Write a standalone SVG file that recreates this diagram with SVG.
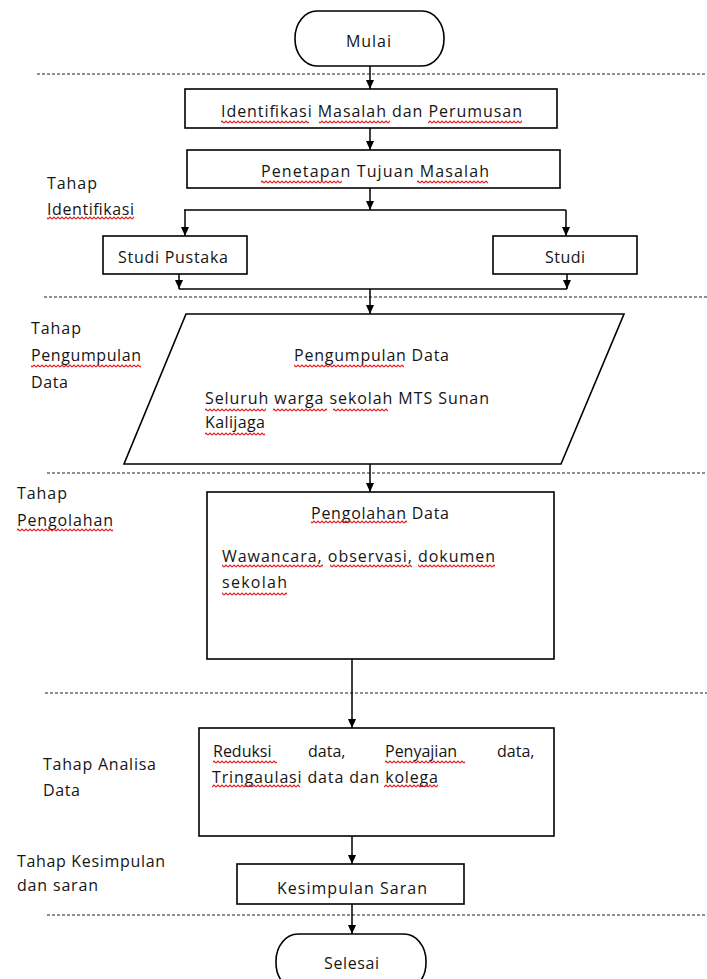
<svg xmlns="http://www.w3.org/2000/svg" width="707" height="979" viewBox="0 0 707 979">
<style>
.t { font-family: "Open Sans", "Noto Sans", sans-serif; font-size: 16px; fill: #151515; }
.shape { fill: #fff; stroke: #000; stroke-width: 1.6; }
.conn { fill: none; stroke: #000; stroke-width: 1.5; }
.arr { marker-end: url(#ah); }
.dash { fill: none; stroke: #222; stroke-width: 1; stroke-dasharray: 3 2; }
.sq { fill: url(#wave); }
</style>
<defs>
<marker id="ah" markerWidth="10" markerHeight="10" refX="9" refY="5" orient="auto" markerUnits="userSpaceOnUse">
<path d="M0,1 L9,5 L0,9 z" fill="#000"/>
</marker>
<pattern id="wave" width="4" height="4" patternUnits="userSpaceOnUse">
<path d="M0,3 L2,1 L4,3" fill="none" stroke="#e02020" stroke-width="1.2"/>
</pattern>
</defs>
<rect width="707" height="979" fill="#fff"/>

<g id="separators">
<line class="dash" x1="37" y1="74" x2="707" y2="74"/>
<line class="dash" x1="44" y1="297" x2="707" y2="297"/>
<line class="dash" x1="47" y1="473" x2="707" y2="473"/>
<line class="dash" x1="45" y1="693" x2="707" y2="693"/>
<line class="dash" x1="47" y1="915" x2="707" y2="915"/>
</g>

<g id="stage-labels">
<text class="t" x="47" y="189" textLength="50">Tahap</text>
<text class="t" x="47" y="215" textLength="87">Identifikasi</text>
<rect class="sq" x="47" y="216" width="87" height="4"/>
<text class="t" x="31" y="334" textLength="50">Tahap</text>
<text class="t" x="31" y="361" textLength="110">Pengumpulan</text>
<rect class="sq" x="31" y="364" width="110" height="4"/>
<text class="t" x="31" y="388" textLength="37">Data</text>
<text class="t" x="17" y="499" textLength="50">Tahap</text>
<text class="t" x="17" y="526" textLength="96">Pengolahan</text>
<rect class="sq" x="17" y="528" width="96" height="4"/>
<text class="t" x="43" y="770" textLength="113">Tahap Analisa</text>
<text class="t" x="43" y="796" textLength="37">Data</text>
<text class="t" x="17" y="867" textLength="148">Tahap Kesimpulan</text>
<text class="t" x="17" y="891" textLength="81">dan saran</text>
</g>

<g id="connectors">
<path class="conn arr" d="M370,66 V89"/>
<path class="conn arr" d="M370,128 V150"/>
<path class="conn arr" d="M370,188 V210"/>
<path class="conn" d="M184,210 H566"/>
<path class="conn arr" d="M185,210 V236"/>
<path class="conn arr" d="M566,210 V236"/>
<path class="conn arr" d="M179,274 V289"/>
<path class="conn arr" d="M567,274 V289"/>
<path class="conn" d="M179,289 H567"/>
<path class="conn arr" d="M370,289 V314"/>
<path class="conn arr" d="M370,464 V492"/>
<path class="conn arr" d="M352,659 V728"/>
<path class="conn arr" d="M352,836 V864"/>
<path class="conn arr" d="M352,904 V934"/>
</g>

<g id="mulai">
<rect class="shape" x="295" y="11" width="149" height="55" rx="22" ry="27"/>
<text class="t" x="346" y="47" textLength="45">Mulai</text>
</g>

<g id="identifikasi">
<rect class="shape" x="185" y="89" width="372" height="39"/>
<text class="t" x="221" y="117" textLength="301">Identifikasi Masalah dan Perumusan</text>
<rect class="sq" x="221" y="120" width="88" height="4"/>
<rect class="sq" x="319" y="120" width="71" height="4"/>
<rect class="sq" x="428" y="120" width="94" height="4"/>
</g>

<g id="penetapan">
<rect class="shape" x="187" y="150" width="373" height="38"/>
<text class="t" x="261" y="177" textLength="228">Penetapan Tujuan Masalah</text>
<rect class="sq" x="261" y="180" width="81" height="4"/>
<rect class="sq" x="417" y="180" width="71" height="4"/>
</g>

<g id="studi-pustaka">
<rect class="shape" x="103" y="236" width="144" height="38"/>
<text class="t" x="118" y="263" textLength="110">Studi Pustaka</text>
</g>

<g id="studi">
<rect class="shape" x="493" y="236" width="144" height="38"/>
<text class="t" x="545" y="263" textLength="40">Studi</text>
</g>

<g id="pengumpulan">
<polygon class="shape" points="186,314 624,314 561,464 124,464"/>
<text class="t" x="294" y="361" textLength="155">Pengumpulan Data</text>
<rect class="sq" x="294" y="364" width="110" height="4"/>
<text class="t" x="205" y="404" textLength="284">Seluruh warga sekolah MTS Sunan</text>
<rect class="sq" x="205" y="408" width="61" height="4"/>
<rect class="sq" x="273" y="408" width="54" height="4"/>
<rect class="sq" x="333" y="408" width="55" height="4"/>
<text class="t" x="205" y="428" textLength="60">Kalijaga</text>
<rect class="sq" x="205" y="432" width="60" height="4"/>
</g>

<g id="pengolahan">
<rect class="shape" x="207" y="492" width="347" height="167"/>
<text class="t" x="311" y="519" textLength="138">Pengolahan Data</text>
<rect class="sq" x="311" y="520" width="96" height="4"/>
<text class="t" x="222" y="562" textLength="273">Wawancara, observasi, dokumen</text>
<rect class="sq" x="222" y="564" width="101" height="4"/>
<rect class="sq" x="330" y="564" width="82" height="4"/>
<rect class="sq" x="418" y="564" width="77" height="4"/>
<text class="t" x="222" y="588" textLength="65">sekolah</text>
<rect class="sq" x="222" y="592" width="65" height="4"/>
</g>

<g id="analisa">
<rect class="shape" x="199" y="728" width="355" height="108"/>
<text class="t" y="757"><tspan x="213">Reduksi</tspan> <tspan x="308">data,</tspan> <tspan x="385">Penyajian</tspan> <tspan x="497">data,</tspan></text>
<rect class="sq" x="213" y="760" width="64" height="4"/>
<rect class="sq" x="385" y="760" width="80" height="4"/>
<text class="t" x="212" y="783" textLength="226">Tringaulasi data dan kolega</text>
<rect class="sq" x="212" y="784" width="88" height="4"/>
<rect class="sq" x="384" y="784" width="54" height="4"/>
</g>

<g id="kesimpulan">
<rect class="shape" x="237" y="864" width="227" height="40"/>
<text class="t" x="277" y="894" textLength="150">Kesimpulan Saran</text>
</g>

<g id="selesai">
<rect class="shape" x="276" y="934" width="150" height="56" rx="22" ry="27"/>
<text class="t" x="324" y="969" textLength="55">Selesai</text>
</g>
</svg>
